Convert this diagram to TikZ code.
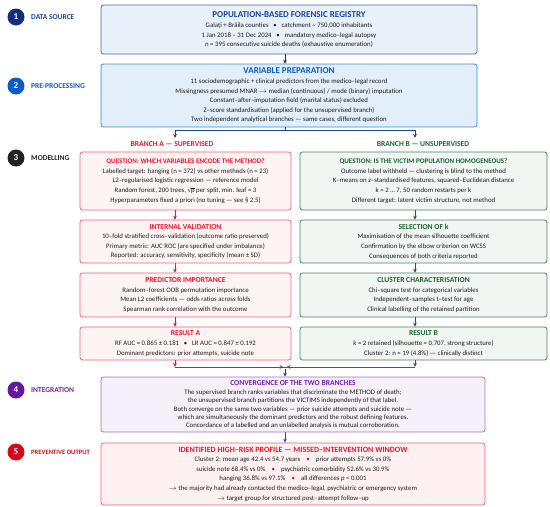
\documentclass[tikz,border=0pt]{standalone}
\usepackage{fontspec}
\setmainfont{Carlito}
\newfontfamily\symfont{DejaVu Sans}
\usetikzlibrary{arrows.meta, positioning, calc}

\definecolor{navy1}{RGB}{18, 46, 128}
\definecolor{srcblue}{RGB}{25, 70, 165}
\definecolor{srcedge}{RGB}{70, 105, 165}
\definecolor{srcfill}{RGB}{232, 240, 250}
\definecolor{prepblue}{RGB}{12, 92, 200}
\definecolor{prepedge}{RGB}{55, 140, 210}
\definecolor{prepfill}{RGB}{226, 238, 250}
\definecolor{modelgray}{RGB}{35, 35, 35}
\definecolor{supred}{RGB}{232, 22, 48}
\definecolor{supedge}{RGB}{245, 95, 115}
\definecolor{supfill}{RGB}{255, 244, 244}
\definecolor{unsgreen}{RGB}{28, 100, 48}
\definecolor{unsedge}{RGB}{75, 128, 90}
\definecolor{unsfill}{RGB}{241, 246, 242}
\definecolor{intviolet}{RGB}{100, 25, 155}
\definecolor{inttitle}{RGB}{120, 30, 175}
\definecolor{intedge}{RGB}{155, 115, 200}
\definecolor{intfill}{RGB}{246, 240, 251}
\definecolor{outred}{RGB}{212, 10, 22}
\definecolor{outfill}{RGB}{255, 241, 241}
\definecolor{mergegray}{RGB}{85, 85, 85}
\definecolor{bodyink}{RGB}{30, 30, 30}

\newcommand{\sepdot}{\hspace{0.7em}\textbullet\hspace{0.7em}}
\newcommand{\reddot}{\hspace{0.9em}\textcolor{outred}{\textbullet}\hspace{0.9em}}
\newcommand{\bigtitle}[2]{{\fontsize{9}{9}\selectfont\bfseries\color{#1}#2}}
\newcommand{\boxtitle}[2]{{\fontsize{7.6}{8}\selectfont\bfseries\color{#1}#2}}
\newcommand{\rootp}{{\symfont\fontsize{6}{6}\selectfont √}\kern-0.3pt\textoverline{p}}
\newcommand{\textoverline}[1]{\smash{$\overline{\mbox{#1}}$}}

\tikzset{
  panel/.style={draw=#1, rounded corners=2.5pt, line width=0.8pt, align=center, inner sep=0pt,
    text=bodyink, font=\fontsize{6.8}{9.6}\selectfont},
  stagedot/.style={circle, fill=#1, minimum size=17pt, inner sep=0pt, text=white,
    font=\fontsize{9}{9}\selectfont\bfseries},
  stagename/.style={anchor=west, inner sep=0pt, text=#1, font=\fontsize{7.5}{8}\selectfont\bfseries},
  flow/.style={draw=#1, line width=0.9pt, -{Stealth[length=4pt,width=3.8pt]}},
}

\begin{document}
\begin{tikzpicture}[x=1pt, y=-1pt]
  \useasboundingbox (0,0) rectangle (550,507);

  % Guide lines for the connectors
  \coordinate (spine) at (285,0);
  \coordinate (colA) at (175,0);
  \coordinate (colB) at (415,0);

  % Stage markers
  \node[stagedot=navy1] (s1) at (16,17) {1};
  \node[stagename=srcblue] (l1) at (31,17) {DATA SOURCE};
  \node[stagedot=prepblue] (s2) at (16,86) {2};
  \node[stagename=prepblue] (l2) at (31,86) {PRE-PROCESSING};
  \node[stagedot=modelgray] (s3) at (16,158) {3};
  \node[stagename=modelgray] (l3) at (31,158) {MODELLING};
  \node[stagedot=intviolet] (s4) at (16,390) {4};
  \node[stagename=inttitle] (l4) at (31,390) {INTEGRATION};
  \node[stagedot=outred] (s5) at (16,452) {5};
  \node[stagename=outred, font=\fontsize{6.6}{7}\selectfont\bfseries] (l5) at (31,452) {PREVENTIVE OUTPUT};

  % Data source
  \node[panel=srcedge, fill=srcfill, minimum width=376pt, minimum height=49pt] (src) at (289,29.5) {
    \bigtitle{srcblue}{POPULATION-BASED FORENSIC REGISTRY}\\[1pt]
    Galați + Brăila counties\sepdot catchment \textasciitilde{} 750,000 inhabitants\\
    1 Jan 2018 -- 31 Dec 2024\sepdot mandatory medico--legal autopsy\\
    n = 395 consecutive suicide deaths (exhaustive enumeration)};

  % Pre-processing
  \node[panel=prepedge, fill=prepfill, minimum width=376pt, minimum height=63pt] (prep) at (289,95.5) {
    \bigtitle{prepblue}{VARIABLE PREPARATION}\\
    11 sociodemographic + clinical predictors from the medico--legal record\\
    Missingness presumed MNAR $\rightarrow$ median (continuous) / mode (binary) imputation\\
    Constant--after--imputation field (marital status) excluded\\
    Z--score standardisation (applied for the unsupervised branch)\\
    Two independent analytical branches --- same cases, different question};

  % Branch headings
  \node[font=\fontsize{7.6}{8}\selectfont\bfseries, text=supred] (labA) at (172,144) {BRANCH A --- SUPERVISED};
  \node[font=\fontsize{7.6}{8}\selectfont\bfseries, text=unsgreen] (labB) at (423,144) {BRANCH B --- UNSUPERVISED};

  % Branch A
  \node[panel=supedge, fill=supfill, minimum width=211pt, minimum height=58pt] (qa) at (185.5,181) {
    \boxtitle{supred}{\fontsize{7}{8}\selectfont QUESTION: WHICH VARIABLES ENCODE THE METHOD?}\\
    Labelled target: hanging (n = 372) vs other methods (n = 23)\\
    L2--regularised logistic regression --- reference model\\
    Random forest, 200 trees, \rootp{} per split, min. leaf = 3\\
    Hyperparameters fixed a priori (no tuning --- see § 2.5)};
  \node[panel=supedge, fill=supfill, minimum width=211pt, minimum height=43pt] (va) at (185.5,241.5) {
    \boxtitle{supred}{INTERNAL VALIDATION}\\
    10--fold stratified cross--validation (outcome ratio preserved)\\
    Primary metric: AUC ROC (are specified under imbalance)\\
    Reported: accuracy, sensitivity, specificity (mean ± SD)};
  \node[panel=supedge, fill=supfill, minimum width=211pt, minimum height=44pt] (pa) at (185.5,295) {
    \boxtitle{supred}{PREDICTOR IMPORTANCE}\\
    Random--forest OOB permutation importance\\
    Mean L2 coefficients --- odds ratios across folds\\
    Spearman rank correlation with the outcome};
  \node[panel=supedge, fill=supfill, minimum width=211pt, minimum height=33pt] (ra) at (185.5,343.5) {
    \boxtitle{supred}{RESULT A}\\
    RF AUC = 0.865 ± 0.181\sepdot LR AUC = 0.847 ± 0.192\\
    Dominant predictors: prior attempts, suicide note};

  % Branch B
  \node[panel=unsedge, fill=unsfill, minimum width=247pt, minimum height=58pt] (qb) at (423.5,181) {
    \boxtitle{unsgreen}{\fontsize{7}{8}\selectfont QUESTION: IS THE VICTIM POPULATION HOMOGENEOUS?}\\
    Outcome label withheld --- clustering is blind to the method\\
    K--means on z--standardised features, squared--Euclidean distance\\
    k = 2 … 7, 50 random restarts per k\\
    Different target: latent victim structure, not method};
  \node[panel=unsedge, fill=unsfill, minimum width=247pt, minimum height=43pt] (sb) at (423.5,241.5) {
    \boxtitle{unsgreen}{SELECTION OF k}\\
    Maximisation of the mean silhouette coefficient\\
    Confirmation by the elbow criterion on WCSS\\
    Consequences of both criteria reported};
  \node[panel=unsedge, fill=unsfill, minimum width=247pt, minimum height=44pt] (cb) at (423.5,295) {
    \boxtitle{unsgreen}{CLUSTER CHARACTERISATION}\\
    Chi--square test for categorical variables\\
    Independent--samples t--test for age\\
    Clinical labelling of the retained partition};
  \node[panel=unsedge, fill=unsfill, minimum width=247pt, minimum height=33pt] (rb) at (423.5,343.5) {
    \boxtitle{unsgreen}{RESULT B}\\
    k = 2 retained (silhouette = 0.707, strong structure)\\
    Cluster 2: n = 19 (4.8\%) --- clinically distinct};

  % Integration
  \node[panel=intedge, fill=intfill, minimum width=384pt, minimum height=55pt,
        font=\fontsize{6.8}{8.2}\selectfont] (conv) at (293,404.5) {
    \boxtitle{inttitle}{CONVERGENCE OF THE TWO BRANCHES}\\[1pt]
    The supervised branch ranks variables that discriminate the METHOD of death;\\
    the unsupervised branch partitions the VICTIMS independently of that label.\\
    Both converge on the same two variables --- prior suicide attempts and suicide note ---\\
    which are simultaneously the dominant predictors and the robust defining features.\\
    Concordance of a labelled and an unlabelled analysis is mutual corroboration.};

  % Preventive output
  \node[panel=supedge, fill=outfill, minimum width=384pt, minimum height=62pt] (prev) at (293,474) {
    \boxtitle{supred}{\fontsize{8}{8}\selectfont IDENTIFIED HIGH--RISK PROFILE --- MISSED--INTERVENTION WINDOW}\\
    Cluster 2: mean age 42.4 vs 54.7 years\reddot prior attempts 57.9\% vs 0\%\\
    suicide note 68.4\% vs 0\%\reddot psychiatric comorbidity 52.6\% vs 30.9\%\\
    hanging 36.8\% vs 97.1\%\reddot all differences \textit{p} < 0.001\\
    $\rightarrow$ the majority had already contacted the medico--legal, psychiatric or emergency system\\
    $\rightarrow$ target group for structured post--attempt follow--up};

  % Main flow
  \draw[flow=navy1] (src.south -| spine) -- (prep.north -| spine);
  \coordinate (fork) at (285,130);
  \draw[draw=srcblue, line width=0.9pt] (prep.south -| spine) -- (fork);
  \draw[flow=srcblue] (fork) -| (labA.north -| colA);
  \draw[flow=srcblue] (fork) -| (labB.north -| colB);

  % Branch A chain
  \draw[flow=supred] (qa.south -| colA) -- (va.north -| colA);
  \draw[flow=supred] (va.south -| colA) -- (pa.north -| colA);
  \draw[flow=supred] (pa.south -| colA) -- (ra.north -| colA);

  % Branch B chain
  \draw[flow=unsgreen] (qb.south -| colB) -- (sb.north -| colB);
  \draw[flow=unsgreen] (sb.south -| colB) -- (cb.north -| colB);
  \draw[flow=unsgreen] (cb.south -| colB) -- (rb.north -| colB);

  % Merge of the branches
  \coordinate (joinA) at (175,367);
  \coordinate (joinB) at (415,367);
  \coordinate (meet) at (285,367);
  \draw[draw=mergegray, line width=0.9pt] (joinA) -- (joinB);
  \draw[flow=mergegray] (joinA) -- ([xshift=-1.5pt]meet);
  \draw[flow=mergegray] (joinB) -- ([xshift=1.5pt]meet);
  \draw[flow=supred] (ra.south -| colA) -- (joinA);
  \draw[flow=unsgreen] (rb.south -| colB) -- (joinB);
  \draw[flow=intviolet] ([yshift=-1.5pt]meet) -- (conv.north -| spine);

  % Output
  \draw[flow=prepblue] (conv.south -| spine) -- (prev.north -| spine);
\end{tikzpicture}
\end{document}
